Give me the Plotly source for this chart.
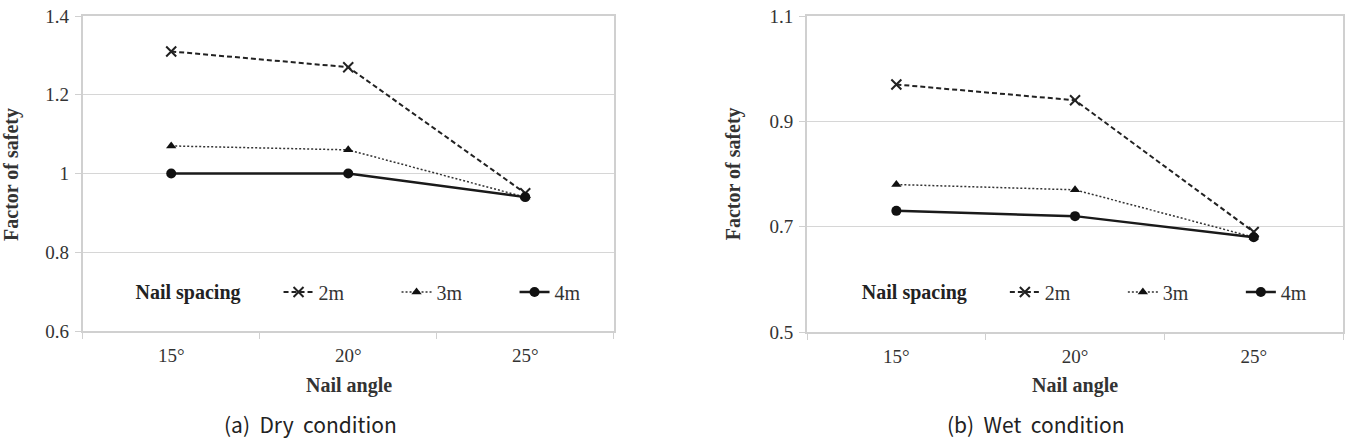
import plotly.graph_objects as go

angles = ["15°", "20°", "25°"]
series_names = ["2m", "3m", "4m"]
dry_2m = [1.31, 1.27, 0.95]
dry_3m = [1.07, 1.06, 0.94]
dry_4m = [1.00, 1.00, 0.94]
wet_2m = [0.97, 0.94, 0.69]
wet_3m = [0.78, 0.77, 0.68]
wet_4m = [0.73, 0.72, 0.68]
dry_yticks = [0.6, 0.8, 1.0, 1.2, 1.4]
dry_yticklabels = ["0.6", "0.8", "1", "1.2", "1.4"]
wet_yticks = [0.5, 0.7, 0.9, 1.1]
wet_yticklabels = ["0.5", "0.7", "0.9", "1.1"]

W, H = 1360, 441
SERIF = "Liberation Serif"

styles = {
    "2m": dict(line=dict(color="#222222", width=2, dash="5px,3px"),
               marker=dict(symbol="x-thin", size=10, color="#222222",
                           line=dict(color="#222222", width=2))),
    "3m": dict(line=dict(color="#333333", width=1.5, dash="2px,2px"),
               marker=dict(symbol="triangle-up", size=9, color="#111111")),
    "4m": dict(line=dict(color="#1a1a1a", width=2.5, dash="solid"),
               marker=dict(symbol="circle", size=10, color="#111111")),
}

fig = go.Figure()
for name, vals in zip(series_names, [dry_2m, dry_3m, dry_4m]):
    fig.add_trace(go.Scatter(x=angles, y=vals, name=name, mode="lines+markers",
                             xaxis="x", yaxis="y", legend="legend",
                             **styles[name]))
for name, vals in zip(series_names, [wet_2m, wet_3m, wet_4m]):
    fig.add_trace(go.Scatter(x=angles, y=vals, name=name, mode="lines+markers",
                             xaxis="x2", yaxis="y2", legend="legend2",
                             **styles[name]))

def px_x(v):
    return v / W

def px_y(v):
    return (H - v) / H

axis_common = dict(
    showline=True, linecolor="#d0d0d0", linewidth=2, mirror=True,
    tickfont=dict(family=SERIF, size=19, color="#333333"),
    automargin=False, zeroline=False,
)

xcommon = dict(axis_common, type="category", categoryorder="array",
               categoryarray=angles, range=[-0.5, 2.5], showgrid=False,
               ticks="outside", tickson="boundaries", ticklen=6,
               tickcolor="#d0d0d0", tickwidth=1, ticklabelstandoff=6)

ycommon = dict(axis_common, showgrid=True, gridcolor="#d6d6d6", gridwidth=1,
               ticks="outside", ticklen=6, tickcolor="#d0d0d0", tickwidth=1,
               ticklabelstandoff=2)

NB = "\u00a0"
legend_title = "<b>Nail spacing</b>" + NB * 6

def make_legend(xpx):
    return dict(orientation="h", x=px_x(xpx), y=px_y(292), xanchor="left",
                yanchor="middle", bgcolor="rgba(0,0,0,0)",
                font=dict(family=SERIF, size=20, color="#333333"),
                title=dict(text=legend_title, side="left",
                           font=dict(family=SERIF, size=20, color="#222222")),
                entrywidth=73, entrywidthmode="pixels")

fig.update_layout(
    width=W, height=H,
    margin=dict(l=0, r=0, t=0, b=0),
    paper_bgcolor="white", plot_bgcolor="white",
    xaxis=dict(xcommon, domain=[px_x(83), px_x(616)], anchor="y"),
    yaxis=dict(ycommon, domain=[px_y(331), px_y(16)], anchor="x",
               range=[0.6, 1.4], tickvals=dry_yticks, ticktext=dry_yticklabels),
    xaxis2=dict(xcommon, domain=[px_x(810), px_x(1348)], anchor="y2"),
    yaxis2=dict(ycommon, domain=[px_y(332), px_y(16)], anchor="x2",
                range=[0.5, 1.1], tickvals=wet_yticks, ticktext=wet_yticklabels),
    legend=make_legend(134),
    legend2=make_legend(863),
    showlegend=True,
)

ann_title = dict(family=SERIF, size=20, color="#333333")
cap_font = dict(family="Noto Sans CJK KR", size=21, color="#222222")
annotations = [
    dict(text="<b>Nail angle</b>", x=px_x(350), y=px_y(385), font=ann_title),
    dict(text="<b>Nail angle</b>", x=px_x(1079), y=px_y(385), font=ann_title),
    dict(text="<b>Factor of safety</b>", x=px_x(11), y=px_y(174), textangle=-90, font=ann_title),
    dict(text="<b>Factor of safety</b>", x=px_x(736), y=px_y(174), textangle=-90, font=ann_title),
    dict(text="(a)  Dry  condition", x=px_x(312), y=px_y(424), font=cap_font),
    dict(text="(b)  Wet  condition", x=px_x(1040), y=px_y(424), font=cap_font),
]
for a in annotations:
    a.update(xref="paper", yref="paper", showarrow=False, xanchor="center", yanchor="middle")
fig.update_layout(annotations=annotations)

fig.write_html("out.html")
